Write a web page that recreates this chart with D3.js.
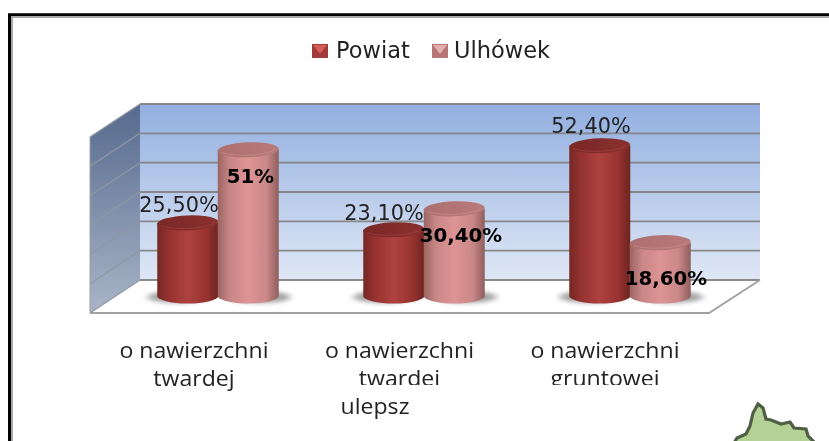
<!DOCTYPE html>
<html><head><meta charset="utf-8">
<script src="https://cdn.jsdelivr.net/npm/d3@7"></script>
<style>html,body{margin:0;padding:0;background:#fff}svg{display:block}</style>
</head><body><svg id="c" width="829" height="441"></svg>
<script>
const categories = ["o nawierzchni twardej","o nawierzchni twardej ulepsz","o nawierzchni gruntowej"];
const seriesNames = ["Powiat","Ulhówek"];
const powiat = [25.5,23.1,52.4];
const ulhowek = [51,30.4,18.6];
const powiatLabels = ["25,50%","23,10%","52,40%"];
const ulhowekLabels = ["51%","30,40%","18,60%"];
const gridTicks = [0,10,20,30,40,50,60];
const mapOutline = [[734,443],[737,438],[746,434],[750,426],[753,413],[758,404],[763,408],[766,419],[771,420],[776,422],[781,424],[790,422],[794,428],[806,429],[808,436],[815,443]];

const svg = d3.select("#c");
const defs = svg.append("defs");
function grad(id,stops,x2,y2){
  const g=defs.append("linearGradient").attr("id",id).attr("x1",0).attr("y1",0).attr("x2",x2).attr("y2",y2);
  stops.forEach(s=>g.append("stop").attr("offset",s[0]).attr("stop-color",s[1]));
}
grad("wall",[[0,"#92afe0"],[1,"#dfe7f5"]],0,1);
grad("side",[[0,"#566a8e"],[1,"#a9b4c6"]],0,1);
grad("cyl0",[[0,"#762826"],[.2,"#97322f"],[.5,"#ae4240"],[.8,"#98332f"],[1,"#6e2422"]],1,0);
grad("cyl1",[[0,"#9a6463"],[.2,"#c88786"],[.5,"#dd9494"],[.8,"#c98887"],[1,"#8f5e5d"]],1,0);
grad("top0",[[0,"#7a2927"],[1,"#8a302e"]],1,0);
grad("top1",[[0,"#ac706f"],[1,"#b87a79"]],1,0);
const blur=defs.append("filter").attr("id","blur").attr("x","-30%").attr("y","-80%").attr("width","160%").attr("height","260%");
blur.append("feGaussianBlur").attr("stdDeviation","3.5 2");
const soft=defs.append("filter").attr("id","soft").attr("filterUnits","userSpaceOnUse").attr("x",0).attr("y",0).attr("width",829).attr("height",441);
soft.append("feGaussianBlur").attr("stdDeviation",0.55);
defs.append("clipPath").attr("id","clipB").append("rect").attr("x",310).attr("y",330).attr("width",520).attr("height",55);

const root=svg.append("g").attr("filter","url(#soft)");

// frame
root.append("rect").attr("x",9.5).attr("y",14.75).attr("width",900).attr("height",500).attr("fill","none").attr("stroke","#000").attr("stroke-width",3);
root.append("rect").attr("x",12).attr("y",17).attr("width",900).attr("height",500).attr("fill","none").attr("stroke","#a8a8a8").attr("stroke-width",2);

// legend
const legendSwatchX=[312,432];
const legendTextX=[336,454];
const legendFill=["#a03a38","#b67776"], legendTri=["#d85c56","#e8b0b0"];
seriesNames.forEach((n,i)=>{
  const x=legendSwatchX[i], w=16, y=44, h=14;
  root.append("rect").attr("x",x).attr("y",y).attr("width",w).attr("height",h).attr("fill",legendFill[i]);
  root.append("path").attr("d",d3.line()([[x+1,y+1],[x+w-1,y+1],[x+w/2,y+h-4]])+"Z").attr("fill",legendTri[i]);
  root.append("text").attr("x",legendTextX[i]).attr("y",58).attr("font-family","DejaVu Sans").attr("font-size",22.5).attr("fill","#222").text(n);
});

// 3D box
const wallX0=140, wallX1=760, dx=-50, dy=33;
const yWall=d3.scaleLinear().domain([0,60]).range([280,104]);
const yBar=d3.scaleLinear().domain([0,60]).range([296,124]);
const line=d3.line();
root.append("rect").attr("x",wallX0).attr("y",yWall(60)).attr("width",wallX1-wallX0).attr("height",yWall(0)-yWall(60)).attr("fill","url(#wall)");
root.append("path").attr("d",line([[wallX0,yWall(60)],[wallX0,yWall(0)],[wallX0+dx,yWall(0)+dy],[wallX0+dx,yWall(60)+dy]])+"Z").attr("fill","url(#side)");
root.append("path").attr("d",line([[wallX0,yWall(0)],[wallX1,yWall(0)],[wallX1+dx-1,yWall(0)+dy],[wallX0+dx,yWall(0)+dy]])+"Z").attr("fill","#fff");
gridTicks.forEach(t=>{
  root.append("path").attr("d",line([[wallX0,yWall(t)],[wallX1,yWall(t)]])).attr("fill","none").attr("stroke","#808080").attr("stroke-width",1.8).attr("stroke-opacity",.9);
  root.append("path").attr("d",line([[wallX0+dx,yWall(t)+dy],[wallX0,yWall(t)]])).attr("fill","none").attr("stroke","#8f97a3").attr("stroke-width",1.2);
});
root.append("path").attr("d",line([[wallX0+dx,yWall(0)+dy],[wallX1+dx-1,yWall(0)+dy],[wallX1,yWall(0)]])).attr("fill","none").attr("stroke","#a0a0a0").attr("stroke-width",1.8);
root.append("path").attr("d",line([[wallX0+dx,yWall(60)+dy],[wallX0+dx,yWall(0)+dy]])).attr("stroke","#a0a0a0").attr("stroke-width",1);

// bars
const x0=d3.scaleBand().domain(categories).range([115,733]);
const x1=d3.scaleBand().domain(seriesNames).range([x0.bandwidth()/2-60.5,x0.bandwidth()/2+60.5]);
const rx=30.5, ry=7.5;
const seriesValues=[powiat,ulhowek];
categories.forEach((c,i)=>seriesNames.forEach((s,j)=>{
  root.append("ellipse").attr("cx",x0(c)+x1(s)+x1.bandwidth()/2+(j?12:-10)).attr("cy",yBar(0)+1).attr("rx",rx).attr("ry",ry-1.5)
    .attr("fill","#666").attr("opacity",.6).attr("filter","url(#blur)");
}));
categories.forEach((c,i)=>seriesNames.forEach((s,j)=>{
  const cx=x0(c)+x1(s)+x1.bandwidth()/2, yT=yBar(seriesValues[j][i]), yB=yBar(0);
  const g=root.append("g");
  g.append("path").attr("d",`M${cx-rx},${yT}L${cx-rx},${yB}A${rx},${ry} 0 0 0 ${cx+rx},${yB}L${cx+rx},${yT}Z`).attr("fill",`url(#cyl${j})`);
  g.append("ellipse").attr("cx",cx).attr("cy",yT).attr("rx",rx).attr("ry",ry).attr("fill",`url(#top${j})`)
    .attr("transform",`rotate(-2 ${cx} ${yT})`);
  g.append("path").attr("d",`M${cx-rx+4},${yT+3}A${rx},${ry} 0 0 0 ${cx+rx-4},${yT-1}`).attr("fill","none")
    .attr("stroke",j?"#d29493":"#ad4643").attr("stroke-width",1).attr("opacity",.55);
}));

// data labels
const labelPos=[[[179,212],[250.5,183]],[[384,220],[461,242]],[[591,133],[666,285]]];
[powiatLabels,ulhowekLabels].forEach((arr,j)=>arr.forEach((t,i)=>{
  root.append("text").attr("x",labelPos[i][j][0]).attr("y",labelPos[i][j][1]).attr("text-anchor","middle")
    .attr("font-family","DejaVu Sans").attr("font-size",j?19.8:20.8).attr("font-weight",j?"bold":"normal").attr("fill",j?"#000":"#222").text(t);
}));

// category labels
function catText(parent,x,y,t){
  const el=parent.append("text").attr("x",x).attr("y",y).attr("text-anchor","middle")
    .attr("font-family","Open Sans").attr("font-size",21).attr("fill","#222").text(t);
  el.attr("textLength",el.node().getComputedTextLength()*1.1).attr("lengthAdjust","spacingAndGlyphs");
}
const catCenter=[194,399.5,605];
const clipped=root.append("g").attr("clip-path","url(#clipB)");
catText(root,catCenter[0],358,"o nawierzchni");
catText(root,catCenter[0],386,"twardej");
catText(root,catCenter[1],358,"o nawierzchni");
catText(clipped,catCenter[1],386,"twardej");
catText(root,375,414,"ulepsz");
catText(root,catCenter[2],358,"o nawierzchni");
catText(clipped,catCenter[2],386,"gruntowej");

// map fragment at the bottom right
root.append("path").attr("d",line(mapOutline)+"Z").attr("fill","#b4d295").attr("stroke","#4f5f45").attr("stroke-width",3.2).attr("stroke-linejoin","miter");
</script></body></html>
